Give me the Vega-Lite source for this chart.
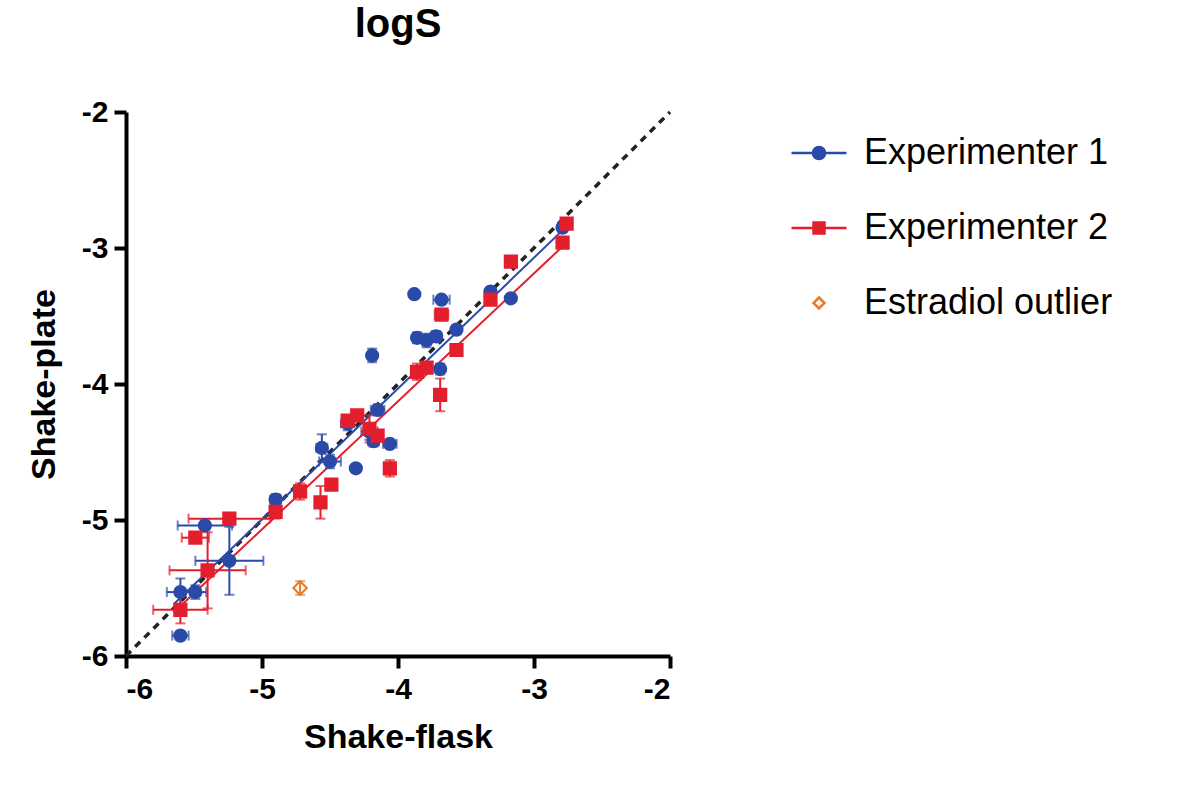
{
  "$schema": "https://vega.github.io/schema/vega-lite/v6.json",
  "autosize": "none",
  "width": 544,
  "height": 544,
  "padding": {"left": 126, "top": 112, "right": 530, "bottom": 134},
  "background": "white",
  "title": {"text": "logS", "fontSize": 40, "font": "Liberation Sans", "fontWeight": "bold", "offset": 52, "anchor": "middle", "color": "black"},
  "datasets": {
    "pts": [
      {"g": "Experimenter 1", "x": -5.60, "y": -5.85, "xe": 0.06, "ye": 0},
      {"g": "Experimenter 1", "x": -5.60, "y": -5.53, "xe": 0.1, "ye": 0.1},
      {"g": "Experimenter 1", "x": -5.49, "y": -5.53, "xe": 0.08, "ye": 0.05},
      {"g": "Experimenter 1", "x": -5.24, "y": -5.30, "xe": 0.25, "ye": 0.25},
      {"g": "Experimenter 1", "x": -5.42, "y": -5.04, "xe": 0.2, "ye": 0},
      {"g": "Experimenter 1", "x": -4.90, "y": -4.85, "xe": 0.04, "ye": 0.04},
      {"g": "Experimenter 1", "x": -4.56, "y": -4.47, "xe": 0.04, "ye": 0.1},
      {"g": "Experimenter 1", "x": -4.50, "y": -4.57, "xe": 0.08, "ye": 0.05},
      {"g": "Experimenter 1", "x": -4.31, "y": -4.62, "xe": 0, "ye": 0},
      {"g": "Experimenter 1", "x": -4.37, "y": -4.29, "xe": 0.05, "ye": 0.05},
      {"g": "Experimenter 1", "x": -4.21, "y": -4.35, "xe": 0.06, "ye": 0.06},
      {"g": "Experimenter 1", "x": -4.18, "y": -4.42, "xe": 0.04, "ye": 0.04},
      {"g": "Experimenter 1", "x": -4.15, "y": -4.19, "xe": 0.05, "ye": 0.04},
      {"g": "Experimenter 1", "x": -4.06, "y": -4.44, "xe": 0.05, "ye": 0},
      {"g": "Experimenter 1", "x": -4.19, "y": -3.79, "xe": 0, "ye": 0.05},
      {"g": "Experimenter 1", "x": -3.88, "y": -3.34, "xe": 0, "ye": 0},
      {"g": "Experimenter 1", "x": -3.68, "y": -3.38, "xe": 0.06, "ye": 0},
      {"g": "Experimenter 1", "x": -3.86, "y": -3.66, "xe": 0.03, "ye": 0.04},
      {"g": "Experimenter 1", "x": -3.79, "y": -3.68, "xe": 0.03, "ye": 0.05},
      {"g": "Experimenter 1", "x": -3.72, "y": -3.65, "xe": 0.04, "ye": 0.04},
      {"g": "Experimenter 1", "x": -3.69, "y": -3.89, "xe": 0, "ye": 0.04},
      {"g": "Experimenter 1", "x": -3.57, "y": -3.60, "xe": 0, "ye": 0.03},
      {"g": "Experimenter 1", "x": -3.32, "y": -3.32, "xe": 0, "ye": 0},
      {"g": "Experimenter 1", "x": -3.17, "y": -3.37, "xe": 0, "ye": 0},
      {"g": "Experimenter 1", "x": -2.79, "y": -2.85, "xe": 0, "ye": 0},
      {"g": "Experimenter 2", "x": -5.60, "y": -5.66, "xe": 0.2, "ye": 0.1},
      {"g": "Experimenter 2", "x": -5.49, "y": -5.13, "xe": 0.1, "ye": 0.03},
      {"g": "Experimenter 2", "x": -5.40, "y": -5.37, "xe": 0.28, "ye": 0.28},
      {"g": "Experimenter 2", "x": -5.24, "y": -4.99, "xe": 0.3, "ye": 0},
      {"g": "Experimenter 2", "x": -4.90, "y": -4.94, "xe": 0, "ye": 0.05},
      {"g": "Experimenter 2", "x": -4.72, "y": -4.79, "xe": 0, "ye": 0.06},
      {"g": "Experimenter 2", "x": -4.57, "y": -4.87, "xe": 0, "ye": 0.12},
      {"g": "Experimenter 2", "x": -4.49, "y": -4.74, "xe": 0.04, "ye": 0},
      {"g": "Experimenter 2", "x": -4.30, "y": -4.23, "xe": 0, "ye": 0},
      {"g": "Experimenter 2", "x": -4.37, "y": -4.27, "xe": 0, "ye": 0},
      {"g": "Experimenter 2", "x": -4.21, "y": -4.33, "xe": 0, "ye": 0.1},
      {"g": "Experimenter 2", "x": -4.15, "y": -4.38, "xe": 0.04, "ye": 0.04},
      {"g": "Experimenter 2", "x": -4.06, "y": -4.62, "xe": 0, "ye": 0.06},
      {"g": "Experimenter 2", "x": -3.86, "y": -3.91, "xe": 0.03, "ye": 0.06},
      {"g": "Experimenter 2", "x": -3.79, "y": -3.88, "xe": 0.03, "ye": 0.04},
      {"g": "Experimenter 2", "x": -3.69, "y": -4.08, "xe": 0, "ye": 0.12},
      {"g": "Experimenter 2", "x": -3.68, "y": -3.49, "xe": 0.05, "ye": 0},
      {"g": "Experimenter 2", "x": -3.57, "y": -3.75, "xe": 0, "ye": 0},
      {"g": "Experimenter 2", "x": -3.17, "y": -3.10, "xe": 0, "ye": 0},
      {"g": "Experimenter 2", "x": -3.32, "y": -3.38, "xe": 0, "ye": 0},
      {"g": "Experimenter 2", "x": -2.79, "y": -2.96, "xe": 0, "ye": 0},
      {"g": "Experimenter 2", "x": -2.76, "y": -2.82, "xe": 0, "ye": 0},
      {"g": "Estradiol outlier", "x": -4.72, "y": -5.50, "xe": 0, "ye": 0.05}
    ],
    "fits": [
      {"g": "Experimenter 1", "x": -5.65, "y": -5.62},
      {"g": "Experimenter 1", "x": -2.77, "y": -2.85},
      {"g": "Experimenter 2", "x": -5.65, "y": -5.68},
      {"g": "Experimenter 2", "x": -2.77, "y": -2.97}
    ],
    "ident": [{"x": -6, "y": -6}, {"x": -2, "y": -2}],
    "leg": [{"g": "Experimenter 1", "x": -4, "y": -4}]
  },
  "encoding": {
    "x": {"field": "x", "type": "quantitative", "title": "Shake-flask",
      "scale": {"domain": [-6, -2], "nice": false, "zero": false},
      "axis": {"values": [-6, -5, -4, -3, -2], "labelExpr": "replace(format(datum.value, 'd'), '−', '-')"}},
    "y": {"field": "y", "type": "quantitative", "title": "Shake-plate",
      "scale": {"domain": [-6, -2], "nice": false, "zero": false},
      "axis": {"values": [-6, -5, -4, -3, -2], "labelExpr": "replace(format(datum.value, 'd'), '−', '-')"}}
  },
  "layer": [
    {
      "data": {"name": "ident"},
      "mark": {"type": "line", "color": "#222222", "strokeWidth": 3.5, "strokeDash": [7, 6]},
      "encoding": {}
    },
    {
      "data": {"name": "fits"},
      "mark": {"type": "line", "strokeWidth": 2},
      "encoding": {
        "detail": {"field": "g"},
        "color": {"field": "g", "type": "nominal", "legend": null,
          "scale": {"domain": ["Experimenter 1", "Experimenter 2", "Estradiol outlier"], "range": ["#2b4aa8", "#e31e2d", "#e87a2a"]}}
      }
    },
    {
      "data": {"name": "pts"},
      "transform": [{"filter": "datum.xe > 0"}],
      "mark": {"type": "errorbar", "ticks": {"size": 10}, "thickness": 2},
      "encoding": {
        "xError": {"field": "xe"},
        "color": {"field": "g", "type": "nominal", "legend": null}
      }
    },
    {
      "data": {"name": "pts"},
      "transform": [{"filter": "datum.ye > 0"}],
      "mark": {"type": "errorbar", "ticks": {"size": 10}, "thickness": 2},
      "encoding": {
        "yError": {"field": "ye"},
        "color": {"field": "g", "type": "nominal", "legend": null}
      }
    },
    {
      "data": {"name": "pts"},
      "mark": {"type": "point", "size": 150, "strokeWidth": 2, "opacity": 1},
      "encoding": {
        "color": {"field": "g", "type": "nominal", "legend": null},
        "fill": {"field": "g", "type": "nominal", "legend": null,
          "scale": {"domain": ["Experimenter 1", "Experimenter 2", "Estradiol outlier"], "range": ["#2b4aa8", "#e31e2d", "transparent"]}},
        "shape": {"field": "g", "type": "nominal", "legend": null,
          "scale": {"domain": ["Experimenter 1", "Experimenter 2", "Estradiol outlier"], "range": ["circle", "square", "M0,-1.1L1.1,0L0,1.1L-1.1,0Z"]}}
      }
    },
    {
      "data": {"name": "leg"},
      "transform": [{"filter": "false"}],
      "mark": {"type": "point", "strokeWidth": 2.5, "opacity": 1},
      "encoding": {
        "stroke": {"field": "g", "type": "nominal", "title": null,
          "scale": {"domain": ["Experimenter 1", "Experimenter 2", "Estradiol outlier"], "range": ["#2b4aa8", "#e31e2d", "#e87a2a"]}},
        "fill": {"field": "g", "type": "nominal", "title": null,
          "scale": {"domain": ["Experimenter 1", "Experimenter 2", "Estradiol outlier"], "range": ["#2b4aa8", "#e31e2d", "white"]}},
        "shape": {"field": "g", "type": "nominal", "title": null,
          "scale": {"domain": ["Experimenter 1", "Experimenter 2", "Estradiol outlier"],
            "range": ["M-1,0H-0.22A0.22,0.22 0 1,1 0.22,0H1M0.22,0A0.22,0.22 0 1,1 -0.22,0Z", "M-1,0H-0.2V-0.2H0.2V0.2H-0.2V0M0.2,0H1", "M0,-0.2L0.2,0L0,0.2L-0.2,0Z"]}}
      }
    }
  ],
  "resolve": {"scale": {"shape": "independent", "stroke": "independent", "fill": "independent"}},
  "config": {
    "view": {"stroke": null},
    "font": "Liberation Sans",
    "axis": {
      "grid": false, "domainColor": "black", "domainWidth": 4, "tickColor": "black", "tickWidth": 4, "tickSize": 12,
      "labelFont": "Liberation Sans", "labelFontSize": 30, "labelFontWeight": "bold", "labelColor": "black", "labelPadding": 6,
      "titleFont": "Liberation Sans", "titleFontSize": 34, "titleFontWeight": "bold", "titleColor": "black"
    },
    "axisX": {"titlePadding": 16},
    "axisY": {"titlePadding": 20},
    "legend": {
      "orient": "none", "legendX": 664, "legendY": 12,
      "symbolSize": 3025, "symbolStrokeWidth": 2.5, "symbolOpacity": 1,
      "labelFont": "Liberation Sans", "labelFontSize": 36, "labelColor": "black", "labelOffset": 16,
      "rowPadding": 28, "labelLimit": 400
    }
  }
}
